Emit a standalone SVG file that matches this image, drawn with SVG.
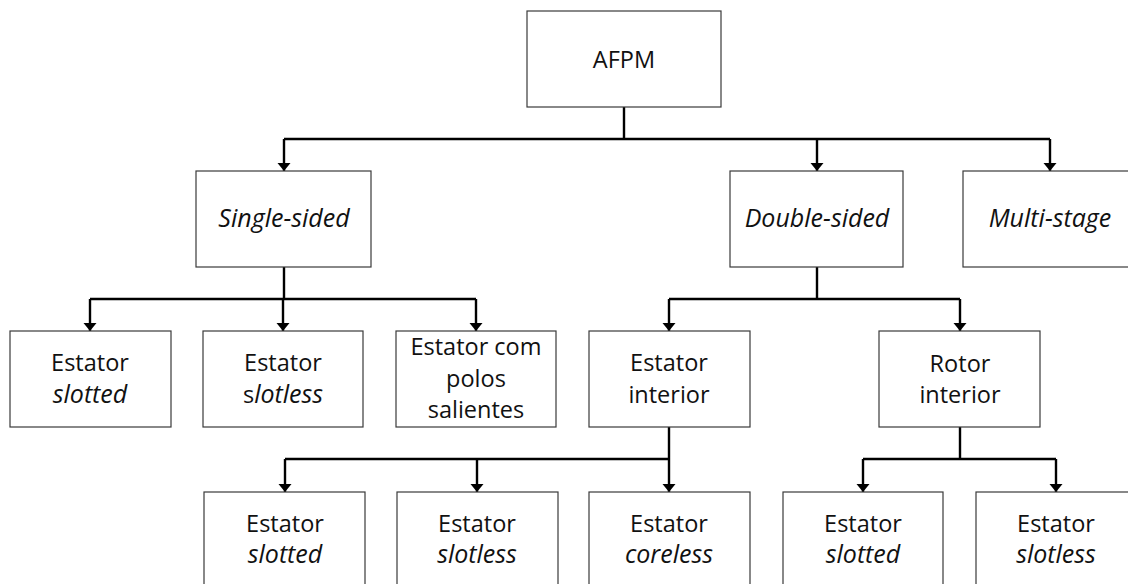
<svg xmlns="http://www.w3.org/2000/svg" width="1128" height="584" viewBox="0 0 1128 584">
  <defs>
    <marker id="arrow" markerUnits="userSpaceOnUse" markerWidth="10" markerHeight="14" refX="8" refY="6.5" orient="auto">
      <path d="M0,0 L8,6.5 L0,13 Z" fill="#000"/>
    </marker>
    <style>
      .box { fill: #fff; stroke: #3a3a3a; stroke-width: 1.2; }
      .lbl { font-family: "Open Sans", "Noto Sans", "Liberation Sans", sans-serif; font-size: 23.5px; fill: #111; text-anchor: middle; }
      .it { font-style: italic; font-size: 25px; }
      .wire { fill: none; stroke: #000; stroke-width: 2.4; }
      .arr { fill: none; stroke: #000; stroke-width: 2.4; marker-end: url(#arrow); }
    </style>
  </defs>
  <rect width="1128" height="584" fill="#fff"/>

  <!-- connectors -->
  <g id="connectors">
    <!-- AFPM to level 1 -->
    <path class="wire" d="M624,107 V139 M284,139 H1050"/>
    <path class="arr" d="M284,139 V171"/>
    <path class="arr" d="M817,139 V171"/>
    <path class="arr" d="M1050,139 V171"/>
    <!-- Single-sided branches -->
    <path class="wire" d="M284,267 V299 M90,299 H476"/>
    <path class="arr" d="M90,299 V331"/>
    <path class="arr" d="M283,299 V331"/>
    <path class="arr" d="M476,299 V331"/>
    <!-- Double-sided branches -->
    <path class="wire" d="M817,267 V299 M669,299 H960"/>
    <path class="arr" d="M669,299 V331"/>
    <path class="arr" d="M960,299 V331"/>
    <!-- Estator interior branches -->
    <path class="wire" d="M669,427 V459 M285,459 H669"/>
    <path class="arr" d="M285,459 V492"/>
    <path class="arr" d="M477,459 V492"/>
    <path class="arr" d="M669,459 V492"/>
    <!-- Rotor interior branches -->
    <path class="wire" d="M960,427 V459 M863,459 H1056"/>
    <path class="arr" d="M863,459 V492"/>
    <path class="arr" d="M1056,459 V492"/>
  </g>

  <g id="afpm">
    <rect class="box" x="527" y="11" width="194" height="96"/>
    <text class="lbl" x="624" y="68">AFPM</text>
  </g>

  <g id="single-sided">
    <rect class="box" x="196" y="171" width="175" height="96"/>
    <text class="lbl it" x="284" y="227">Single-sided</text>
  </g>

  <g id="double-sided">
    <rect class="box" x="730" y="171" width="173" height="96"/>
    <text class="lbl it" x="817" y="227">Double-sided</text>
  </g>

  <g id="multi-stage">
    <rect class="box" x="963" y="171" width="174" height="96"/>
    <text class="lbl it" x="1050" y="227">Multi-stage</text>
  </g>

  <g id="ss-slotted">
    <rect class="box" x="10" y="331" width="161" height="96"/>
    <text class="lbl" x="90" y="371">Estator</text>
    <text class="lbl it" x="90" y="403">slotted</text>
  </g>

  <g id="ss-slotless">
    <rect class="box" x="203" y="331" width="160" height="96"/>
    <text class="lbl" x="283" y="371">Estator</text>
    <text class="lbl" x="283" y="403">s<tspan class="it">lotless</tspan></text>
  </g>

  <g id="ss-salient">
    <rect class="box" x="396" y="331" width="160" height="96"/>
    <text class="lbl" x="476" y="355">Estator com</text>
    <text class="lbl" x="476" y="387">polos</text>
    <text class="lbl" x="476" y="418">salientes</text>
  </g>

  <g id="estator-interior">
    <rect class="box" x="589" y="331" width="161" height="96"/>
    <text class="lbl" x="669" y="371">Estator</text>
    <text class="lbl" x="669" y="403">interior</text>
  </g>

  <g id="rotor-interior">
    <rect class="box" x="879" y="331" width="161" height="96"/>
    <text class="lbl" x="960" y="372">Rotor</text>
    <text class="lbl" x="960" y="403">interior</text>
  </g>

  <g id="ei-slotted">
    <rect class="box" x="204" y="492" width="161" height="100"/>
    <text class="lbl" x="285" y="532">Estator</text>
    <text class="lbl it" x="285" y="563">slotted</text>
  </g>

  <g id="ei-slotless">
    <rect class="box" x="397" y="492" width="161" height="100"/>
    <text class="lbl" x="477" y="532">Estator</text>
    <text class="lbl it" x="477" y="563">slotless</text>
  </g>

  <g id="ei-coreless">
    <rect class="box" x="589" y="492" width="161" height="100"/>
    <text class="lbl" x="669" y="532">Estator</text>
    <text class="lbl it" x="669" y="563">coreless</text>
  </g>

  <g id="ri-slotted">
    <rect class="box" x="783" y="492" width="160" height="100"/>
    <text class="lbl" x="863" y="532">Estator</text>
    <text class="lbl it" x="863" y="563">slotted</text>
  </g>

  <g id="ri-slotless">
    <rect class="box" x="976" y="492" width="161" height="100"/>
    <text class="lbl" x="1056" y="532">Estator</text>
    <text class="lbl it" x="1056" y="563">slotless</text>
  </g>
</svg>
